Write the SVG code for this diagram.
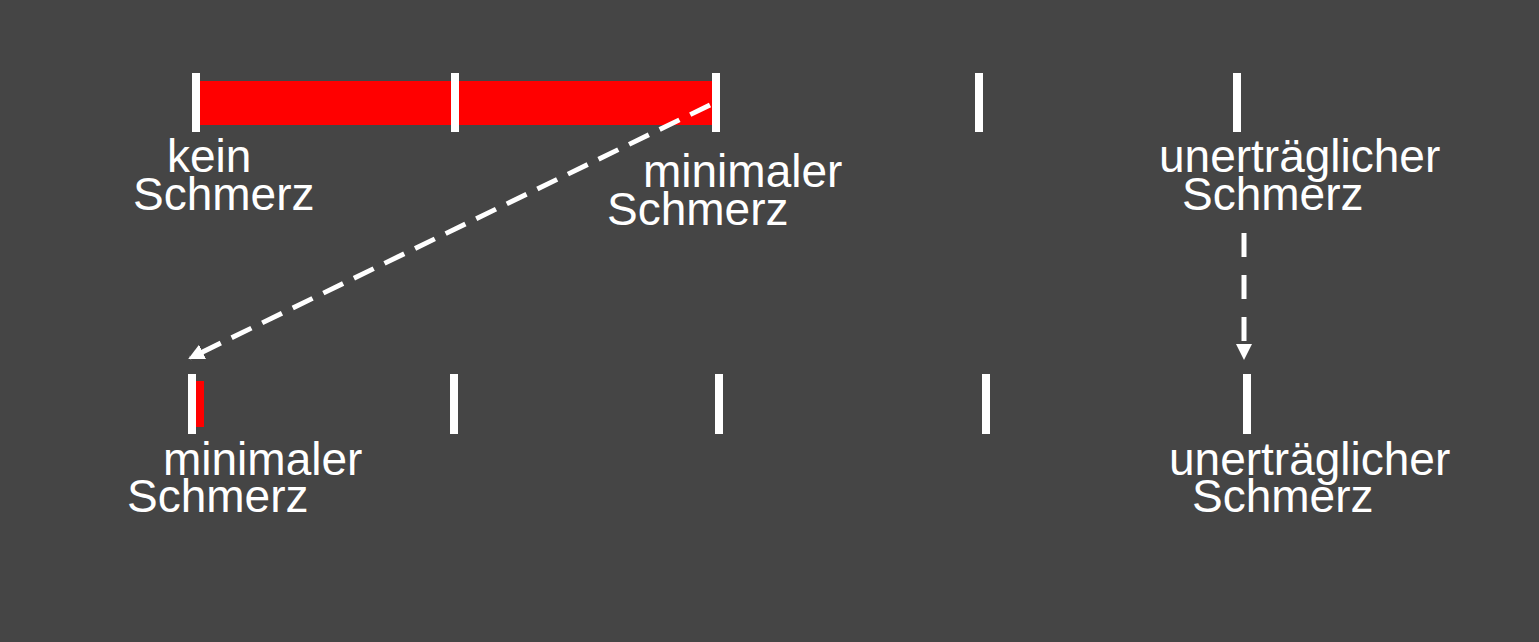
<svg xmlns="http://www.w3.org/2000/svg" width="1539" height="642" viewBox="0 0 1539 642">
<defs>
<style>
.tick{fill:#ffffff}
.bar{fill:#ff0000}
.lbl{font-family:"Liberation Sans",Arial,sans-serif;font-size:46px;fill:#ffffff}
.dash{stroke:#ffffff;stroke-width:5;fill:none}
</style>
<marker id="ah" markerWidth="16" markerHeight="16" viewBox="0 0 16 16" refX="14" refY="8" orient="auto" markerUnits="userSpaceOnUse">
<path d="M0,0 L16,8 L0,16 Z" fill="#ffffff"/>
</marker>
</defs>
<rect width="1539" height="642" fill="#454545"/>
<g id="top-scale">
<rect class="bar" x="200" y="81" width="512" height="44"/>
<rect class="tick" x="192" y="73" width="8" height="59"/>
<rect class="tick" x="451" y="73" width="8" height="59"/>
<rect class="tick" x="712" y="73" width="8" height="59"/>
<rect class="tick" x="975" y="73" width="8" height="59"/>
<rect class="tick" x="1233" y="73" width="8" height="59"/>
</g>
<g id="label-kein">
<text class="lbl" x="167" y="172">kein</text>
<text class="lbl" x="133" y="210">Schmerz</text>
</g>
<g id="label-min-top">
<text class="lbl" x="643" y="187">minimaler</text>
<text class="lbl" x="607" y="225">Schmerz</text>
</g>
<g id="label-unert-top">
<text class="lbl" x="1159" y="172">unerträglicher</text>
<text class="lbl" x="1182" y="210">Schmerz</text>
</g>
<g id="bottom-scale">
<rect class="tick" x="188" y="374" width="8" height="60"/>
<rect class="bar" x="196" y="381" width="8" height="46"/>
<rect class="tick" x="450" y="374" width="8" height="60"/>
<rect class="tick" x="715" y="374" width="8" height="60"/>
<rect class="tick" x="982" y="374" width="8" height="60"/>
<rect class="tick" x="1243" y="374" width="8" height="60"/>
</g>
<g id="label-min-bottom">
<text class="lbl" x="163" y="475">minimaler</text>
<text class="lbl" x="127" y="512">Schmerz</text>
</g>
<g id="label-unert-bottom">
<text class="lbl" x="1169" y="475">unerträglicher</text>
<text class="lbl" x="1192" y="512">Schmerz</text>
</g>
<g id="connectors">
<line class="dash" x1="710" y1="105" x2="190" y2="358" stroke-dasharray="22 12" marker-end="url(#ah)"/>
<line class="dash" x1="1244" y1="233" x2="1244" y2="358" stroke-dasharray="24 18" marker-end="url(#ah)"/>
</g>
</svg>
